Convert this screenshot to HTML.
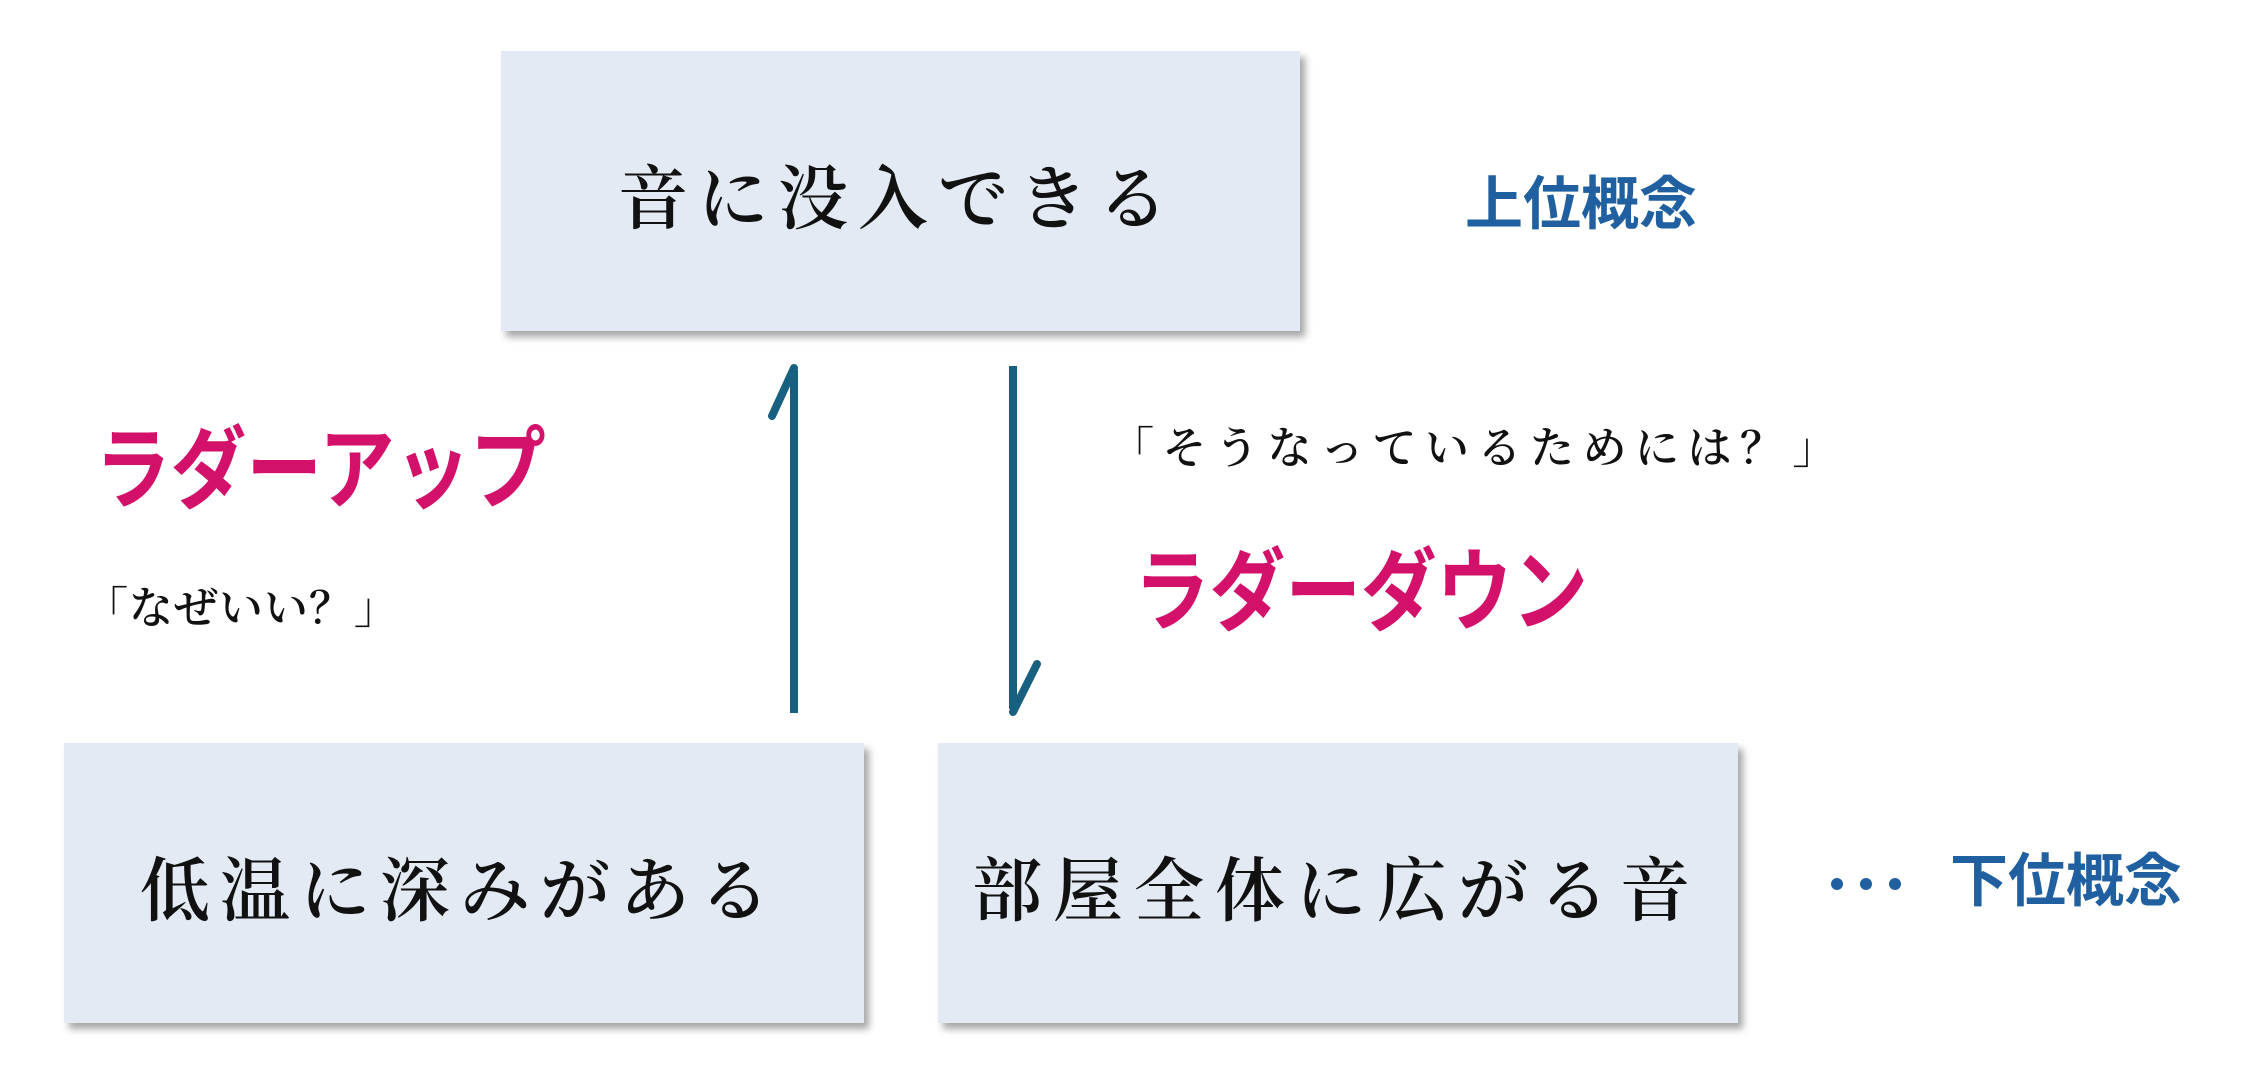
<!DOCTYPE html>
<html><head><meta charset="utf-8"><style>
body{margin:0;width:2254px;height:1081px;background:#fff;position:relative;overflow:hidden}
.box{position:absolute;background:#e3eaf3;box-shadow:5px 6px 7px rgba(0,0,0,0.35)}
.t{position:absolute;white-space:nowrap;line-height:1;display:flex;align-items:center}
.serif{font-family:"Noto Serif CJK SC","Liberation Serif",serif;color:#111;font-weight:600}
.bold{font-family:"Liberation Sans","Noto Sans CJK JP",sans-serif;font-weight:bold}
.blue{color:#2060a0}.pink{color:#d4116a}
.dot{position:absolute;width:12px;height:12px;border-radius:50%;background:#2060a0}
</style></head><body>
<div class="box" style="left:501px;top:51px;width:799px;height:280px"></div>
<div class="box" style="left:64px;top:743px;width:800px;height:280px"></div>
<div class="box" style="left:938px;top:743px;width:800px;height:280px"></div>

<div class="t serif" style="left:618px;top:158px;height:72px;font-size:70px;letter-spacing:10px">音に没入できる</div>
<div class="t serif" style="left:140px;top:850px;height:72px;font-size:70px;letter-spacing:10px">低温に深みがある</div>
<div class="t serif" style="left:972px;top:850px;height:72px;font-size:70px;letter-spacing:11px">部屋全体に広がる音</div>

<div class="t bold blue" style="left:1465px;top:175px;height:60px;font-size:58px">上位概念</div>
<div class="t bold blue" style="left:1950px;top:852px;height:60px;font-size:58px">下位概念</div>
<div class="dot" style="left:1831px;top:878px"></div>
<div class="dot" style="left:1860px;top:878px"></div>
<div class="dot" style="left:1889px;top:878px"></div>

<div class="t bold pink" style="left:95px;top:428px;height:84px;font-size:78px;transform:scale(0.97,1.15);transform-origin:left center">ラダーアップ</div>
<div class="t bold pink" style="left:1134px;top:550px;height:84px;font-size:78px;transform:scale(0.97,1.15);transform-origin:left center">ラダーダウン</div>

<div class="t serif" style="left:84px;top:580px;height:48px;font-size:44px;letter-spacing:1px">「なぜいい？」</div>
<div class="t serif" style="left:1110px;top:420px;height:48px;font-size:44px;letter-spacing:8.5px">「そうなっているためには？」</div>

<svg width="2254" height="1081" style="position:absolute;left:0;top:0">
<g stroke="#17607f" stroke-width="8" fill="none" stroke-linecap="round" stroke-linejoin="miter">
<path d="M794 713 V370" stroke-linecap="butt"/>
<path d="M794 368 L772 416"/>
<path d="M1013 366 V709" stroke-linecap="butt"/>
<path d="M1013 712 L1037 664"/>
</g>
</svg>
</body></html>
